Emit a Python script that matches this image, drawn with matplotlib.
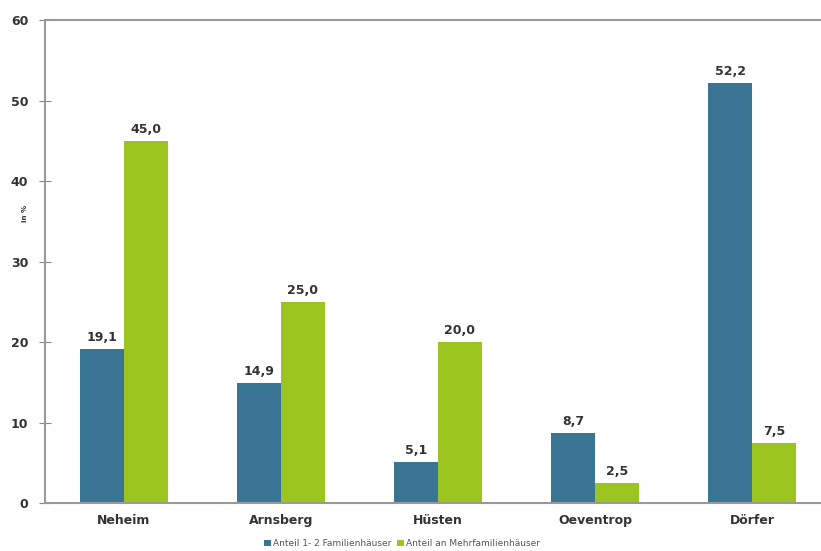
import matplotlib
matplotlib.use("Agg")
import matplotlib.pyplot as plt
import numpy as np

categories = ["Neheim", "Arnsberg", "Hüsten", "Oeventrop", "Dörfer"]
ein_zwei = [19.1, 14.9, 5.1, 8.7, 52.2]
mehr = [45.0, 25.0, 20.0, 2.5, 7.5]
series_names = ["Anteil 1- 2 Familienhäuser", "Anteil an Mehrfamilienhäuser"]
yticks = [0, 10, 20, 30, 40, 50, 60]

BLUE = "#3a7594"
GREEN = "#9bc41e"
TXT = "#333333"

fig = plt.figure(figsize=(8.21, 5.51), dpi=100)
ax = fig.add_axes([0.0548, 0.0871, 0.957, 0.8766])

x = np.arange(len(categories))
w = 0.28
b1 = ax.bar(x - w / 2, ein_zwei, w, color=BLUE, label=series_names[0])
b2 = ax.bar(x + w / 2, mehr, w, color=GREEN, label=series_names[1])

for bars in (b1, b2):
    for r in bars:
        v = r.get_height()
        ax.text(r.get_x() + r.get_width() / 2, v + 0.6, f"{v:.1f}".replace(".", ","),
                ha="center", va="bottom", fontsize=9, fontweight="bold", color=TXT)

ax.set_xlim(-0.5, 4.5)
ax.set_ylim(0, 60)
ax.set_yticks(yticks)
ax.set_xticks(x)
ax.set_xticklabels(categories)
for lab in ax.get_xticklabels() + ax.get_yticklabels():
    lab.set_fontweight("bold")
    lab.set_color(TXT)
    lab.set_fontsize(9)
ax.tick_params(axis="y", direction="inout", length=8, color="#888888", pad=8)
ax.tick_params(axis="x", length=0, pad=8)

for s in ("left", "top", "bottom"):
    ax.spines[s].set_color("#999999")
    ax.spines[s].set_linewidth(1.5)
ax.spines["right"].set_visible(False)

# small "in %" label sitting between the tick labels
ax.text(-0.025, 0.6, "in %", transform=ax.transAxes, rotation=90,
        ha="center", va="center", fontsize=5, fontweight="bold", color=TXT)

fig.legend(handles=[b1, b2], loc="lower center", bbox_to_anchor=(0.49, -0.01), ncol=2,
           frameon=False, fontsize=6.5, handlelength=0.7, handleheight=0.7,
           handletextpad=0.3, columnspacing=0.6, labelcolor="#555555")

fig.savefig("out.png", dpi=100)
